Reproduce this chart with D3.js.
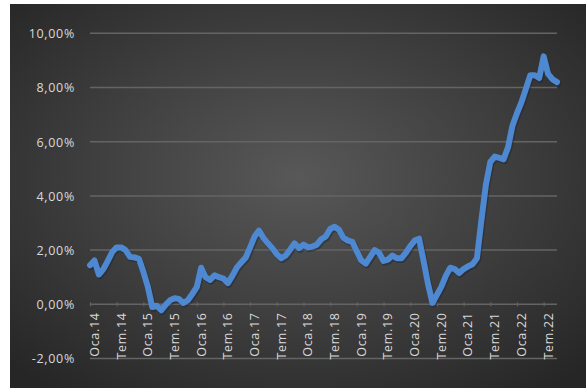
<!DOCTYPE html>
<html>
<head>
<meta charset="utf-8">
<script src="https://cdn.jsdelivr.net/npm/d3@7"></script>
<style>
  html, body { margin: 0; padding: 0; background: #ffffff; }
  svg { display: block; }
  text { font-family: "Open Sans", "Noto Sans", sans-serif; }
</style>
</head>
<body>
<svg id="chart" width="586" height="388"></svg>
<script>
// Monthly series, Jan 2014 – Oct 2022 (percent)
const startYear = 2014;
const monthNames = ["Oca", "Tem"];           // January / July labels
const values = [
  1.44, 1.62, 1.10, 1.30, 1.60, 1.93, 2.10, 2.10, 2.00, 1.75, 1.73, 1.68,
  1.20, 0.65, -0.10, -0.05, -0.22, -0.02, 0.15, 0.22, 0.20, 0.05, 0.15, 0.38,
  0.63, 1.35, 1.00, 0.90, 1.07, 1.00, 0.95, 0.78, 1.05, 1.35, 1.55, 1.72,
  2.10, 2.50, 2.72, 2.45, 2.25, 2.07, 1.85, 1.70, 1.80, 2.02, 2.25, 2.07,
  2.20, 2.10, 2.13, 2.20, 2.40, 2.50, 2.78, 2.86, 2.75, 2.45, 2.35, 2.30,
  1.95, 1.62, 1.50, 1.75, 2.00, 1.90, 1.60, 1.65, 1.80, 1.70, 1.70, 1.90,
  2.15, 2.35, 2.42, 1.60, 0.75, 0.05, 0.35, 0.65, 1.05, 1.35, 1.30, 1.15,
  1.30, 1.40, 1.48, 1.70, 3.10, 4.40, 5.25, 5.45, 5.40, 5.35, 5.80, 6.60,
  7.05, 7.45, 7.95, 8.45, 8.45, 8.35, 9.15, 8.50, 8.30, 8.20
];
const yTicks = [-2, 0, 2, 4, 6, 8, 10];
const xTickMonths = d3.range(0, values.length, 6);   // every January and July
const xTickLabels = xTickMonths.map(m =>
  monthNames[(m % 12) / 6] + "." + String((startYear + Math.floor(m / 12)) % 100).padStart(2, "0"));

const svg = d3.select("#chart");
const W = 586, H = 388;

// Background panel with soft radial lighting
const defs = svg.append("defs");
const grad = defs.append("radialGradient")
  .attr("id", "bg").attr("cx", "50%").attr("cy", "45%").attr("r", "70%");
grad.append("stop").attr("offset", "0%").attr("stop-color", "#585858");
grad.append("stop").attr("offset", "55%").attr("stop-color", "#3d3d3d");
grad.append("stop").attr("offset", "100%").attr("stop-color", "#262626");

svg.append("rect")
  .attr("x", 10).attr("y", 4).attr("width", W - 10).attr("height", H - 4)
  .attr("fill", "url(#bg)");

// Scales
const x = d3.scaleLinear().domain([0, values.length - 1]).range([90, 557]);
const y = d3.scaleLinear().domain([-2, 10]).range([358.5, 33.3]);

const trFmt = d3.formatLocale({ decimal: ",", thousands: ".", grouping: [3], currency: ["", ""], minus: "-" }).format(".2f");

// Horizontal gridlines
svg.append("g")
  .selectAll("line")
  .data(yTicks)
  .join("line")
  .attr("x1", x.range()[0]).attr("x2", x.range()[1])
  .attr("y1", d => y(d)).attr("y2", d => y(d))
  .attr("stroke", "#646464").attr("stroke-width", 1.5);

// Y axis labels
const yAxis = d3.axisLeft(y).tickValues(yTicks).tickSize(0).tickPadding(0)
  .tickFormat(d => trFmt(d) + "%");
svg.append("g")
  .attr("transform", "translate(75,0)")
  .call(yAxis)
  .call(g => g.select(".domain").remove())
  .call(g => g.selectAll("text")
    .attr("fill", "#d9d9d9")
    .attr("font-size", 12.5)
    .attr("letter-spacing", "0.7px")
    .attr("dy", "0.35em"));

// X axis with small ticks on the zero line
const xAxis = d3.axisBottom(x).tickValues(xTickMonths).tickSize(4)
  .tickFormat((d, i) => xTickLabels[i]);
svg.append("g")
  .attr("transform", `translate(0,${y(0)})`)
  .call(xAxis)
  .call(g => g.select(".domain").remove())
  .call(g => g.selectAll(".tick line").attr("stroke", "#646464").attr("stroke-width", 1.2).attr("y1", -2).attr("y2", 2))
  .call(g => g.selectAll("text")
    .attr("fill", "#d9d9d9")
    .attr("font-size", 12.5)
    .attr("letter-spacing", "0.7px")
    .attr("text-anchor", "end")
    .attr("transform", "translate(4,8) rotate(-90)")
    .attr("x", 0).attr("y", 0).attr("dy", "0.35em"));

// Series line
const line = d3.line()
  .x((d, i) => x(i))
  .y(d => y(d));

svg.append("path")
  .datum(values)
  .attr("d", line)
  .attr("fill", "none")
  .attr("stroke", "#1c2330")
  .attr("stroke-opacity", 0.45)
  .attr("stroke-width", 6.5)
  .attr("stroke-linejoin", "round")
  .attr("stroke-linecap", "round")
  .attr("transform", "translate(1,1.5)");

svg.append("path")
  .datum(values)
  .attr("d", line)
  .attr("fill", "none")
  .attr("stroke", "#4d88d0")
  .attr("stroke-width", 6)
  .attr("stroke-linejoin", "round")
  .attr("stroke-linecap", "round");
</script>
</body>
</html>
